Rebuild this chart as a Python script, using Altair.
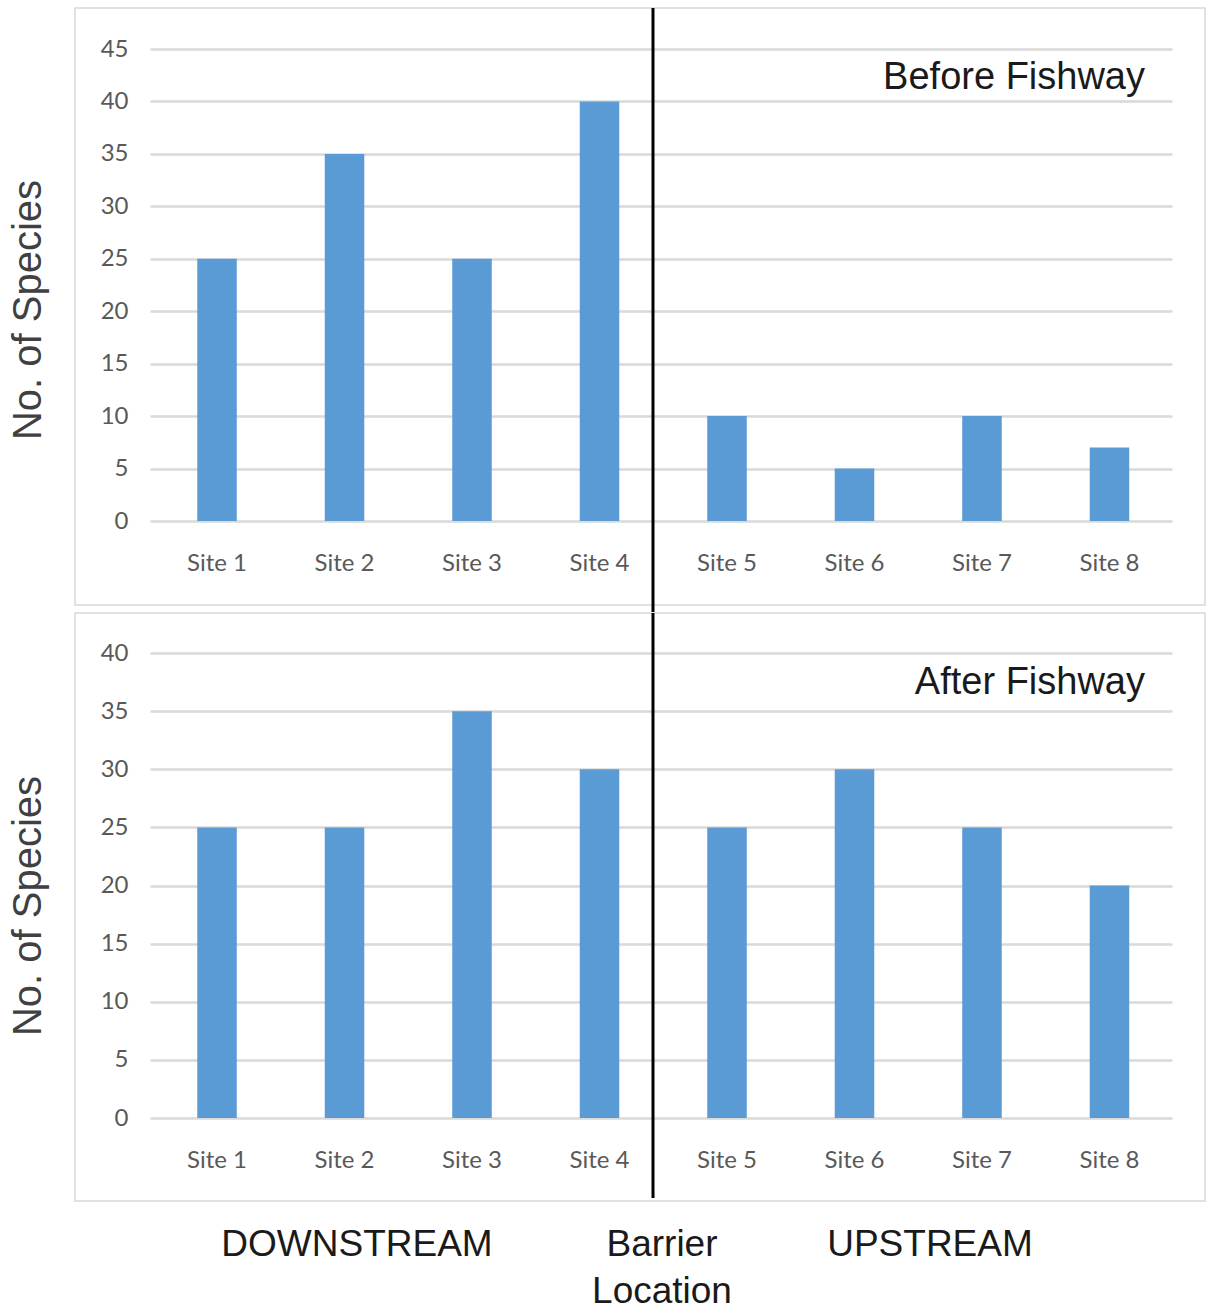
import altair as alt
import pandas as pd

sites = ["Site 1", "Site 2", "Site 3", "Site 4", "Site 5", "Site 6", "Site 7", "Site 8"]
before_values = [25, 35, 25, 40, 10, 5, 10, 7]
after_values = [25, 25, 35, 30, 25, 30, 25, 20]
before_ticks = [0, 5, 10, 15, 20, 25, 30, 35, 40, 45]
after_ticks = [0, 5, 10, 15, 20, 25, 30, 35, 40]

W = 1022
H_TOP = 472
H_BOT = 465
BAR = "#5b9bd5"
GRID = "#d9d9d9"
LABEL_FONT = "Lato, Calibri, sans-serif"
ARIAL = "Liberation Sans, Arial, sans-serif"

df_before = pd.DataFrame({"site": sites, "value": before_values})
df_after = pd.DataFrame({"site": sites, "value": after_values})

one = alt.Data(values=[{}])


def panel(df, ticks, height, label, label_y, title_y, box_top, box_bottom, rule_top, rule_bottom, extra=None):
    xscale = alt.Scale(paddingInner=0.69, paddingOuter=0.353, align=0.525)
    bars = alt.Chart(df).mark_bar(color=BAR).encode(
        x=alt.X("site:N", sort=sites, scale=xscale,
                axis=alt.Axis(title=None, labelAngle=0, domain=False, ticks=False,
                              labelPadding=30, labelFontSize=24, labelColor="#595959",
                              labelFont=LABEL_FONT, grid=False)),
        y=alt.Y("value:Q", scale=alt.Scale(domain=[ticks[0], ticks[-1]], nice=False),
                axis=alt.Axis(title=None, values=ticks, domain=False, ticks=False,
                              labelPadding=22, labelFontSize=24, labelColor="#595959",
                              labelFont=LABEL_FONT, grid=True, gridColor=GRID,
                              gridWidth=2.5)),
    )
    box = alt.Chart(one).mark_rect(filled=False, stroke=GRID, strokeWidth=1.5).encode(
        x=alt.value(-75), x2=alt.value(1055), y=alt.value(box_top), y2=alt.value(box_bottom)
    )
    rule = alt.Chart(one).mark_rule(color="black", strokeWidth=3).encode(
        x=alt.value(503), y=alt.value(rule_top), y2=alt.value(rule_bottom)
    )
    ann = alt.Chart(one).mark_text(text=label, align="right", baseline="middle",
                                   fontSize=38, font=ARIAL, color="#1a1a1a").encode(
        x=alt.value(995), y=alt.value(label_y)
    )
    ytitle = alt.Chart(one).mark_text(text="No. of Species", angle=270, align="center",
                                      baseline="middle", fontSize=40, font=ARIAL,
                                      color="#404040").encode(
        x=alt.value(-121), y=alt.value(title_y)
    )
    layers = [box, bars, rule, ann, ytitle]
    if extra:
        layers += extra
    return alt.layer(*layers).properties(width=W, height=height)


bottom_texts = []
for txt, x, y in [("DOWNSTREAM", 207, 592), ("Barrier", 512, 592),
                  ("Location", 512, 639), ("UPSTREAM", 780, 592)]:
    bottom_texts.append(
        alt.Chart(one).mark_text(text=txt, align="center", baseline="middle",
                                 fontSize=37, font=ARIAL, color="#1a1a1a").encode(
            x=alt.value(x), y=alt.value(y))
    )

top = panel(df_before, before_ticks, H_TOP, "Before Fishway", 29, 261, -41, 556, -41, 563)
bot = panel(df_after, after_ticks, H_BOT, "After Fishway", 30, 253, -40, 548, -40, 545,
            extra=bottom_texts)

chart = alt.vconcat(top, bot, spacing=132, bounds="flush").properties(
    padding={"left": 9, "top": 6, "right": 0, "bottom": 0},
    background="white"
).configure_view(stroke=None)

chart.save("out.html", embed_options={"renderer": "svg", "actions": False})
